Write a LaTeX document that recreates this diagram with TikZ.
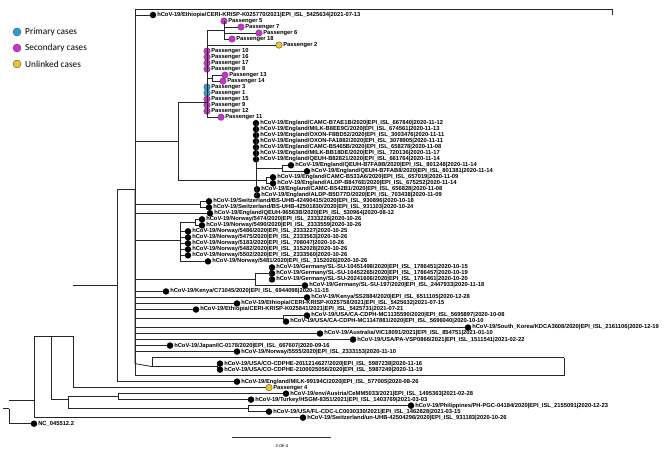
\documentclass[tikz,border=0pt]{standalone}
\usepackage{fontspec}
\newfontfamily\labfont{Liberation Sans}
\newfontfamily\legfont{Carlito}
\definecolor{primcol}{RGB}{38,160,220}
\definecolor{seccol}{RGB}{210,45,210}
\definecolor{unlcol}{RGB}{238,200,40}
\tikzset{
  br/.style={line width=0.8pt, black!85},
  lab/.style={font=\labfont\fontsize{5.8}{6}\selectfont\bfseries, inner sep=0.6pt},
  seq/.style={circle, fill=black, inner sep=0pt, minimum size=6.5pt, label={[lab]right:#1}},
  pas/.style={circle, draw=black!70, line width=0.4pt, inner sep=0pt, minimum size=6.5pt, label={[lab]right:#1}},
  prim/.style={pas=#1, fill=primcol},
  sec/.style={pas=#1, fill=seccol},
  unl/.style={pas=#1, fill=unlcol},
  legdot/.style={circle, draw=black!70, line width=0.4pt, inner sep=0pt, minimum size=8pt},
  legtext/.style={font=\legfont\fontsize{9.3}{10}\selectfont, right, inner sep=0pt}
}
\begin{document}
\begin{tikzpicture}[x=1pt, y=-6.01pt]
\path[use as bounding box, fill=white] (0,-1.4975) rectangle (666,73.213);

% legend
\node[legdot, fill=primcol] (kprim) at (17,3.83) {};
\node[legtext] (kprimt) at (25,3.83) {Primary cases};
\node[legdot, fill=seccol] (ksec) at (17,6.49) {};
\node[legtext] (ksect) at (25,6.49) {Secondary cases};
\node[legdot, fill=unlcol] (kunl) at (17,9.15) {};
\node[legtext] (kunlt) at (25,9.15) {Unlinked cases};

% leaves
\node[seq={hCoV-19/Ethiopia/CERI-KRISP-K025770/2021|EPI\_ISL\_5425634|2021-07-13}] (eth770) at (153,1) {};
\node[sec={Passenger 5}] (p5) at (224,2) {};
\node[sec={Passenger 7}] (p7) at (241,3) {};
\node[sec={Passenger 6}] (p6) at (259,4) {};
\node[sec={Passenger 18}] (p18) at (232,5) {};
\node[unl={Passenger 2}] (p2) at (279,6) {};
\node[sec={Passenger 10}] (p10) at (207,7) {};
\node[sec={Passenger 16}] (p16) at (207,8) {};
\node[sec={Passenger 17}] (p17) at (207,9) {};
\node[sec={Passenger 8}] (p8) at (207,10) {};
\node[sec={Passenger 13}] (p13) at (225,11) {};
\node[sec={Passenger 14}] (p14) at (223,12) {};
\node[prim={Passenger 3}] (p3) at (207,13) {};
\node[prim={Passenger 1}] (p1) at (207,14) {};
\node[sec={Passenger 15}] (p15) at (207,15) {};
\node[sec={Passenger 9}] (p9) at (207,16) {};
\node[sec={Passenger 12}] (p12) at (207,17) {};
\node[sec={Passenger 11}] (p11) at (221,18) {};
\node[seq={hCoV-19/England/CAMC-B7AE1B/2020|EPI\_ISL\_667840|2020-11-12}] (eng1) at (256,19) {};
\node[seq={hCoV-19/England/MILK-B8EE9C/2020|EPI\_ISL\_674561|2020-11-13}] (eng2) at (256,20) {};
\node[seq={hCoV-19/England/OXON-F8BD52/2020|EPI\_ISL\_3003476|2020-11-11}] (eng3) at (256,21) {};
\node[seq={hCoV-19/England/OXON-FA1882/2020|EPI\_ISL\_3078905|2020-11-11}] (eng4) at (256,22) {};
\node[seq={hCoV-19/England/CAMC-B5465B/2020|EPI\_ISL\_658278|2020-11-08}] (eng5) at (256,23) {};
\node[seq={hCoV-19/England/MILK-BB18DE/2020|EPI\_ISL\_720136|2020-11-17}] (eng6) at (256,24) {};
\node[seq={hCoV-19/England/QEUH-B82821/2020|EPI\_ISL\_661764|2020-11-14}] (eng7) at (256,25) {};
\node[seq={hCoV-19/England/QEUH-B7FA8B/2020|EPI\_ISL\_801248|2020-11-14}] (eng8) at (291,26) {};
\node[seq={hCoV-19/England/QEUH-B7FAB8/2020|EPI\_ISL\_801381|2020-11-14}] (eng9) at (307,27) {};
\node[seq={hCoV-19/England/CAMC-B533A6/2020|EPI\_ISL\_657019|2020-11-09}] (eng10) at (273,28) {};
\node[seq={hCoV-19/England/ALDP-B8476E/2020|EPI\_ISL\_675252|2020-11-14}] (eng11) at (273,29) {};
\node[seq={hCoV-19/England/CAMC-B542B1/2020|EPI\_ISL\_656828|2020-11-08}] (eng12) at (257,30) {};
\node[seq={hCoV-19/England/ALDP-B5D77D/2020|EPI\_ISL\_703438|2020-11-09}] (eng13) at (257,31) {};
\node[seq={hCoV-19/Switzerland/BS-UHB-42490415/2020|EPI\_ISL\_930896|2020-10-18}] (swi1) at (209,32) {};
\node[seq={hCoV-19/Switzerland/BS-UHB-42501830/2020|EPI\_ISL\_931103|2020-10-24}] (swi2) at (209,33) {};
\node[seq={hCoV-19/England/QEUH-96563B/2020|EPI\_ISL\_530964|2020-08-12}] (eng14) at (210,34) {};
\node[seq={hCoV-19/Norway/5474/2020|EPI\_ISL\_2333226|2020-10-26}] (nor1) at (202,35) {};
\node[seq={hCoV-19/Norway/5490/2020|EPI\_ISL\_2333559|2020-10-26}] (nor2) at (202,36) {};
\node[seq={hCoV-19/Norway/5486/2020|EPI\_ISL\_2333227|2020-10-25}] (nor3) at (188,37) {};
\node[seq={hCoV-19/Norway/5475/2020|EPI\_ISL\_2333563|2020-10-26}] (nor4) at (188,38) {};
\node[seq={hCoV-19/Norway/5183/2020|EPI\_ISL\_708047|2020-10-26}] (nor5) at (188,39) {};
\node[seq={hCoV-19/Norway/5482/2020|EPI\_ISL\_3152028|2020-10-26}] (nor6) at (188,40) {};
\node[seq={hCoV-19/Norway/5502/2020|EPI\_ISL\_2333560|2020-10-26}] (nor7) at (188,41) {};
\node[seq={hCoV-19/Norway/5481/2020|EPI\_ISL\_3152026|2020-10-26}] (nor8) at (208,42) {};
\node[seq={hCoV-19/Germany/SL-SU-10451498/2020|EPI\_ISL\_1786451|2020-10-15}] (ger1) at (272,43) {};
\node[seq={hCoV-19/Germany/SL-SU-10452265/2020|EPI\_ISL\_1786457|2020-10-19}] (ger2) at (272,44) {};
\node[seq={hCoV-19/Germany/SL-SU-20241606/2020|EPI\_ISL\_1786461|2020-10-20}] (ger3) at (272,45) {};
\node[seq={hCoV-19/Germany/SL-SU-197/2020|EPI\_ISL\_2447933|2020-11-18}] (ger4) at (305,46) {};
\node[seq={hCoV-19/Kenya/C71045/2020|EPI\_ISL\_6944098|2020-11-15}] (ken1) at (166,47) {};
\node[seq={hCoV-19/Kenya/SS2884/2020|EPI\_ISL\_6511105|2020-12-28}] (ken2) at (307,48) {};
\node[seq={hCoV-19/Ethiopia/CERI-KRISP-K025758/2021|EPI\_ISL\_5425632|2021-07-15}] (eth758) at (237,49) {};
\node[seq={hCoV-19/Ethiopia/CERI-KRISP-K025841/2021|EPI\_ISL\_5425731|2021-07-21}] (eth841) at (196,50) {};
\node[seq={hCoV-19/USA/CA-CDPH-MC1135590/2020|EPI\_ISL\_5695897|2020-10-08}] (usa1) at (307,51) {};
\node[seq={hCoV-19/USA/CA-CDPH-MC1147881/2020|EPI\_ISL\_5696040|2020-10-10}] (usa2) at (286,52) {};
\node[seq={hCoV-19/South\_Korea/KDCA3608/2020|EPI\_ISL\_2161106|2020-12-19}] (kor) at (468,53) {};
\node[seq={hCoV-19/Australia/VIC18091/2021|EPI\_ISL\_854751|2021-01-10}] (aus) at (320,54) {};
\node[seq={hCoV-19/USA/PA-VSP0866/2021|EPI\_ISL\_1511541|2021-02-22}] (usa3) at (353,55) {};
\node[seq={hCoV-19/Japan/IC-0178/2020|EPI\_ISL\_667607|2020-09-16}] (jap) at (170,56) {};
\node[seq={hCoV-19/Norway/5555/2020|EPI\_ISL\_2333153|2020-11-10}] (nor9) at (237,57) {};
\node[seq={hCoV-19/USA/CO-CDPHE-2011214627/2020|EPI\_ISL\_5987238|2020-11-16}] (usa4) at (220,59) {};
\node[seq={hCoV-19/USA/CO-CDPHE-2100025056/2020|EPI\_ISL\_5987249|2020-11-19}] (usa5) at (220,60) {};
\node[seq={hCoV-19/England/MILK-99194C/2020|EPI\_ISL\_577005|2020-08-26}] (eng15) at (237,62) {};
\node[unl={Passenger 4}] (p4) at (269,63) {};
\node[seq={hCoV-19/env/Austria/CeMM5033/2021|EPI\_ISL\_1495363|2021-02-28}] (aut) at (286,64) {};
\node[seq={hCoV-19/Turkey/HSGM-8351/2021|EPI\_ISL\_1403769|2021-03-03}] (tur) at (251,65) {};
\node[seq={hCoV-19/Philippines/PH-PGC-04184/2020|EPI\_ISL\_2155091|2020-12-23}] (phi) at (411,66) {};
\node[seq={hCoV-19/USA/FL-CDC-LC0030330/2021|EPI\_ISL\_1462828|2021-03-15}] (usa6) at (269,67) {};
\node[seq={hCoV-19/Switzerland/un-UHB-42504296/2020|EPI\_ISL\_931183|2020-10-26}] (swi3) at (303,68) {};
\node[seq={NC\_045512.2}] (ref) at (34,69) {};

% internal nodes
\coordinate (nroot) at (9,66.5);
\coordinate (nb) at (9,65.2);
\coordinate (nc) at (34,60);
\coordinate (np) at (51,54.5);
\coordinate (nd) at (51,65);
\coordinate (ne) at (68,64.5);
\coordinate (nf) at (68,66.5);
\coordinate (nq) at (73,46);
\coordinate (nt) at (117,30);
\coordinate (nu) at (135,22);
\coordinate (npas) at (178,15.5);
\coordinate (npas5) at (207,3.5);
\coordinate (np13) at (207,11.5);
\coordinate (neng) at (178,28.5);
\coordinate (neng8) at (256,26.5);
\coordinate (nswi) at (135,32.5);
\coordinate (nnor) at (135,38.5);
\coordinate (nnor1) at (180,35.5);
\coordinate (nger) at (135,45);
\coordinate (nger1) at (255,44);
\coordinate (nusa) at (135,51.5);
\coordinate (nco) at (135,59);
\coordinate (nco1) at (152,59.5);
\coordinate (top) at (612,0);
\coordinate (topr) at (612,1);
\coordinate (boxa) at (564,58);
\coordinate (boxb) at (564,61);

% branches
\draw[br] (3,66.5) -- (nroot);
\draw[br] (nroot) |- (ref);
\draw[br] (nb) -- (nc |- nb);
\draw[br] (nc |- nb) |- (swi3);
\draw[br] (nc |- nb) |- (np);
\draw[br] (np) |- (nd);
\draw[br] (np) -- (nq |- np) |- (p4);
\draw[br] (nd) -- (ne |- nd) |- (ne);
\draw[br] (ne |- nd) |- (nf);
\draw[br] (ne) -- (118,64.5) |- (aut);
\draw[br] (118,64.5) |- (tur);
\draw[br] (nf) -- (248,66.5) |- (phi);
\draw[br] (248,66.5) |- (usa6);
\draw[br] (nq) -- (nt |- nq) |- (eng15);
\draw[br] (nt |- nq) |- (nt);
\draw[br] (nt) -- (nu |- nt);
\draw[br] (nu |- nt) |- (135,0) -- (top) -- (topr);
\draw[br] (nu |- nt) |- (135,61) -- (boxb) -- (boxa);
\draw[br] (nu |- nt) |- (eth770);
% passengers and England
\draw[br] (nu) -- (npas |- nu) |- (npas);
\draw[br] (npas |- nu) |- (neng);
\draw[br] (npas) -- (207,15.5);
\foreach \n in {p10,p16,p17,p8,p3,p1,p15,p9,p12,p11,p2}
  \draw[br] (207,15.5) |- (\n);
\draw[br] (207,15.5) |- (npas5) -- (224,3.5);
\foreach \n in {p5,p7,p6,p18}
  \draw[br] (224,3.5) |- (\n);
\draw[br] (207,15.5) |- (np13) -- (212,11.5);
\draw[br] (212,11.5) |- (p13);
\draw[br] (212,11.5) |- (p14);
\draw[br] (neng) -- (256,28.5);
\foreach \n in {eng1,eng2,eng3,eng4,eng5,eng6,eng7,eng12,eng13}
  \draw[br] (256,28.5) |- (\n);
\draw[br] (256,28.5) |- (neng8) -- (282,26.5);
\draw[br] (282,26.5) |- (eng8);
\draw[br] (282,26.5) |- (eng9);
\draw[br] (256,28.5) -- (266,28.5);
\draw[br] (266,28.5) |- (eng10);
\draw[br] (266,28.5) |- (eng11);
% middle clades
\draw[br] (nu |- nt) |- (nswi) -- (200,32.5);
\draw[br] (200,32.5) |- (swi1);
\draw[br] (200,32.5) |- (swi2);
\draw[br] (nu |- nt) |- (eng14);
\draw[br] (nu |- nt) |- (nnor) -- (180,38.5);
\foreach \n in {nor3,nor4,nor5,nor6,nor7,nor8}
  \draw[br] (180,38.5) |- (\n);
\draw[br] (180,38.5) |- (nnor1) -- (195,35.5);
\draw[br] (195,35.5) |- (nor1);
\draw[br] (195,35.5) |- (nor2);
\draw[br] (nu |- nt) |- (nger) -- (255,45);
\draw[br] (255,45) |- (ger4);
\draw[br] (255,45) |- (nger1) -- (270,44);
\foreach \n in {ger1,ger2,ger3}
  \draw[br] (270,44) |- (\n);
\foreach \n in {ken1,ken2,eth758,eth841,kor,aus,usa3,jap,nor9}
  \draw[br] (nu |- nt) |- (\n);
\draw[br] (nu |- nt) |- (nusa) -- (283,51.5);
\draw[br] (283,51.5) |- (usa1);
\draw[br] (283,51.5) |- (usa2);
\draw[br] (nu |- nt) |- (nco) -- (nco1);
\draw[br] (nco1) |- (152,58) -- (boxa);
\draw[br] (nco1) -- (217,59.5);
\draw[br] (217,59.5) |- (usa4);
\draw[br] (217,59.5) |- (usa5);

% scale bar
\coordinate (sbl) at (232,71.2);
\coordinate (sbr) at (331,71.2);
\draw[line width=0.6pt, black!80] (sbl) -- (sbr);
\node[font=\labfont\fontsize{4.3}{5}\selectfont] (sblab) at (282,72.7) {2.0E-4};
\end{tikzpicture}
\end{document}
